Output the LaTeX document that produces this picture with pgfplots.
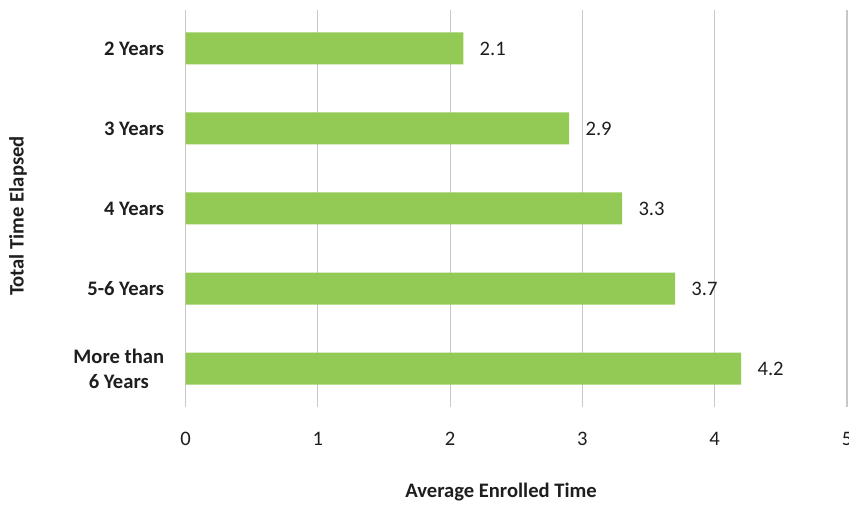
\documentclass[border=0pt]{standalone}
\usepackage{pgfplots}
\pgfplotsset{compat=1.18}
\usepackage{fontspec}
\setmainfont{Carlito}
\definecolor{barGreen}{RGB}{147,201,85}
\definecolor{gridGray}{RGB}{200,200,200}
\definecolor{txt}{RGB}{30,30,30}
\begin{document}
\begin{tikzpicture}
\useasboundingbox (0,0) rectangle (424.5pt,253pt);
\begin{axis}[
  at={(92.75pt,49.5pt)}, anchor=south west,
  scale only axis,
  width=330.75pt, height=198.5pt,
  xmin=0, xmax=5, ymin=-0.48, ymax=4.48,
  y dir=reverse,
  xbar, bar width=16pt,
  xtick={0,1,2,3,4,5},
  ytick={0,1,2,3,4},
  yticklabels={2 Years,3 Years,4 Years,5-6 Years,{More than\\6 Years}},
  xmajorgrids, major grid style={gridGray, line width=0.6pt},
  axis line style={draw=none},
  major tick length=0pt,
  /pgf/number format/assume math mode=true,
  every tick label/.append style={font=\fontsize{10.3}{12.5}\selectfont, text=txt},
  yticklabel style={font=\fontsize{10.3}{12.5}\selectfont\bfseries, align=center, inner sep=0pt, xshift=-10.5pt},
  xticklabel style={inner sep=0pt, yshift=-12.5pt},
  xlabel={Average Enrolled Time},
  ylabel={Total Time Elapsed},
  label style={font=\fontsize{10.3}{12.5}\selectfont\bfseries, text=txt},
  xlabel style={at={(axis description cs:0.477,-0.2141)}, anchor=center},
  ylabel style={at={(axis description cs:-0.2532,0.481)}, anchor=center},
  point meta=explicit symbolic,
  nodes near coords,
  nodes near coords style={anchor=west, inner sep=0pt, xshift=8pt, font=\fontsize{10.3}{12.5}\selectfont, text=txt},
]
\addplot[draw=none, fill=barGreen] coordinates {
  (2.1,0) [2.1]
  (2.9,1) [2.9]
  (3.3,2) [3.3]
  (3.7,3) [3.7]
  (4.2,4) [4.2]
};
\end{axis}
\end{tikzpicture}
\end{document}
